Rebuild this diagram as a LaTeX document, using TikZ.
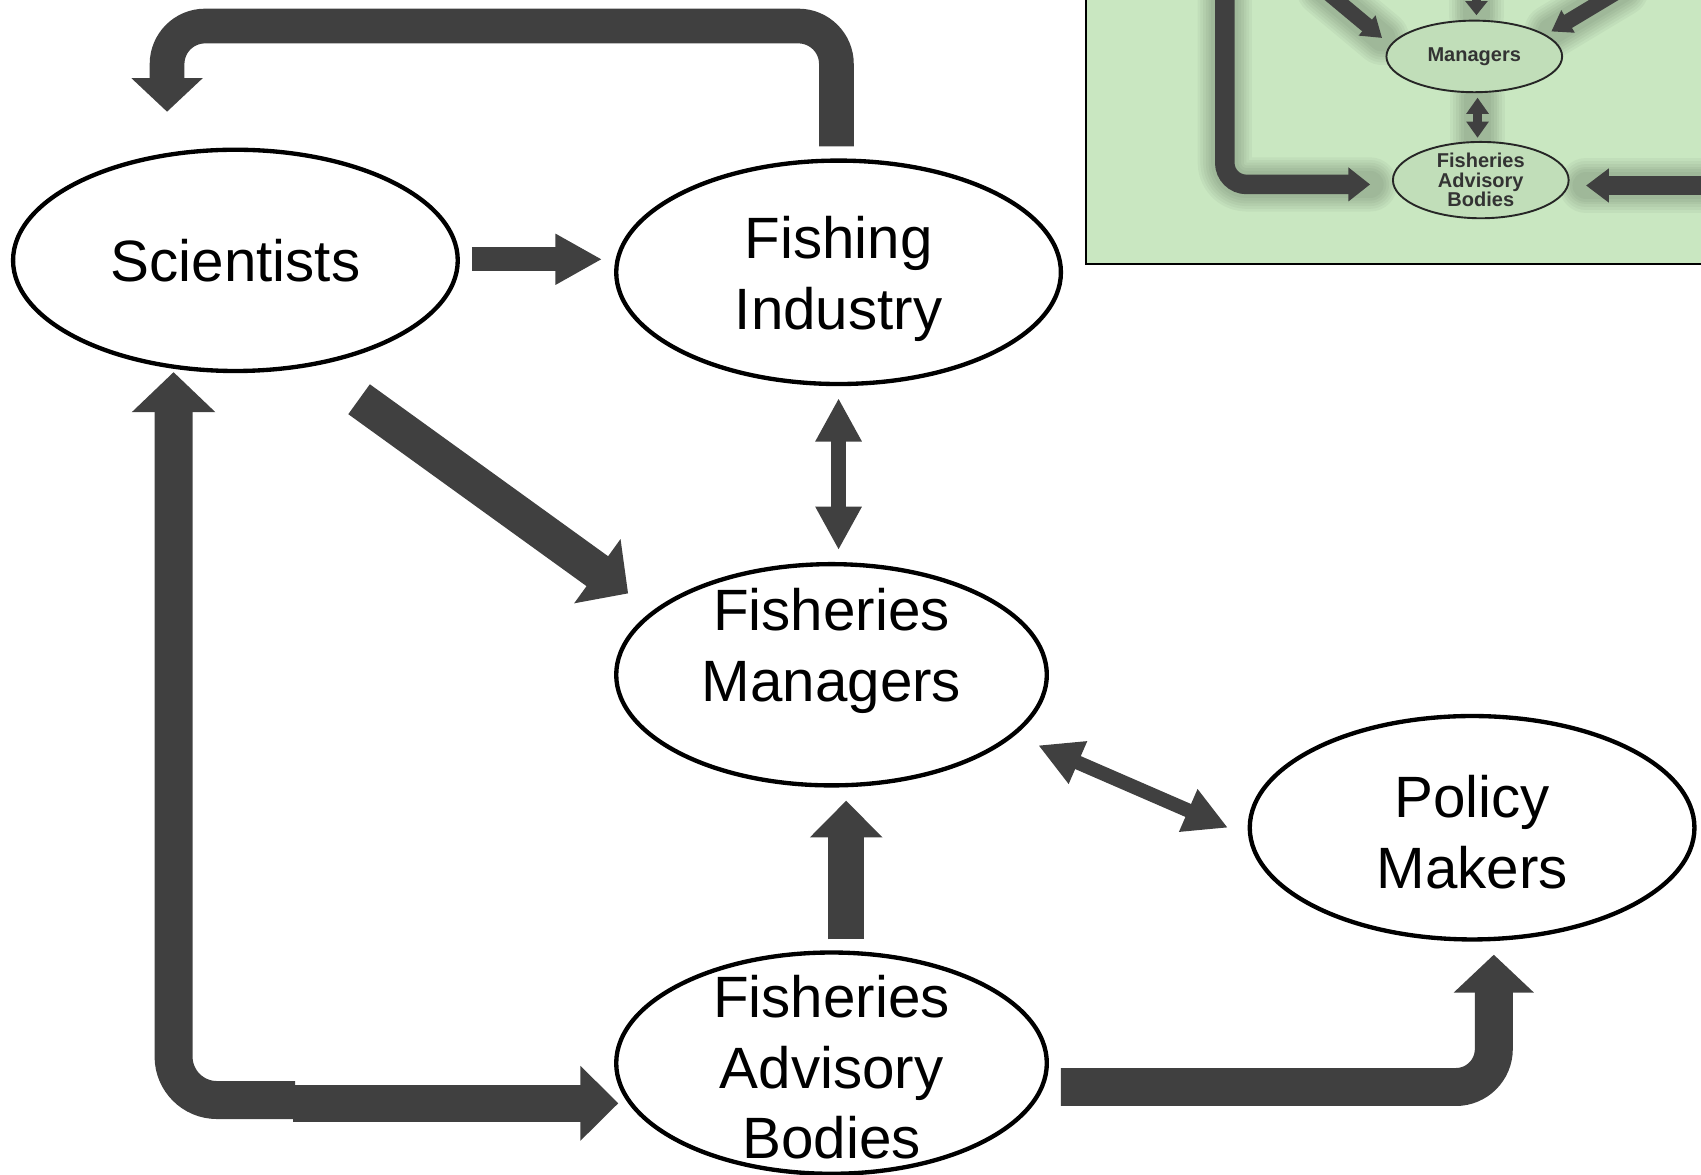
\documentclass[tikz,border=0pt]{standalone}
\usepackage{fontspec}
\setmainfont{Liberation Sans}
\usetikzlibrary{arrows.meta,shapes.geometric,calc}
\definecolor{agray}{HTML}{404040}
\definecolor{insetgreen}{HTML}{C9E7C1}
\begin{document}
\begin{tikzpicture}[x=0.02cm,y=-0.02cm,
  ent/.style={ellipse, draw=black, line width=0.08cm, fill=white, inner sep=0pt},
  enttext/.style={inner sep=0pt, align=center, font=\fontsize{30.6}{37}\selectfont},
  mini/.style={ellipse, draw=black!85, line width=0.035cm, fill=insetgreen!96!black, inner sep=0pt, align=center, text=black!80, font=\bfseries\fontsize{10.5}{10.3}\selectfont},
  fat/.style={draw=agray, line width=#1},
  halo/.style={draw=black, line width=#1, opacity=0.035, line cap=round, line join=round},
]
\useasboundingbox (0,0) rectangle (1568,1083);
\clip (0,0) rectangle (1568,1083);

% ---------- inset (top right) ----------
\fill[insetgreen] (1001,-20) rectangle (1620,243);
\draw[black, line width=0.04cm] (1001,-20) -- (1001,243) -- (1620,243);
\coordinate (iL1) at (1129,-10);
\coordinate (iL2) at (1129,170);
\coordinate (iL3) at (1263,170);
\coordinate (iR1) at (1620,171);
\coordinate (iR2) at (1462,171);
\coordinate (iD1) at (1362,90);
\coordinate (iD2) at (1362,127);
\coordinate (iT1) at (1361,-10);
\coordinate (iT2) at (1361,14);
\coordinate (iA1) at (1220,-10);
\coordinate (iA2) at (1274,35);
\coordinate (iB1) at (1495,-10);
\coordinate (iB2) at (1430,29);
% soft blur halo
\foreach \w in {1.0cm,0.9cm,0.8cm,0.7cm,0.6cm,0.5cm}{
  \draw[halo=\w, rounded corners=0.4cm] (iL1) -- (iL2) -- (iL3);
  \draw[halo=\w] (iR1) -- (iR2);
  \draw[halo=\w] (iA1) -- (iA2);
  \draw[halo=\w] (iB1) -- (iB2);
  \draw[halo=\w] (iD1) -- (iD2);
  \draw[halo=\w] (iT1) -- (iT2);
}
\node[mini, minimum width=3.24cm, minimum height=1.32cm] (im) at (1359,52) {Managers};
\node[mini, minimum width=3.24cm, minimum height=1.36cm] (ifab) at (1365,166) {Fisheries\\Advisory\\Bodies};
\draw[fat=0.36cm, rounded corners=0.4cm, -{Triangle[width=0.6cm,length=0.4cm]}] (iL1) -- (iL2) -- (iL3);
\draw[fat=0.34cm, -{Triangle[width=0.6cm,length=0.42cm]}] (iR1) -- (iR2);
\draw[fat=0.18cm, {Triangle[width=0.4cm,length=0.3cm]}-{Triangle[width=0.4cm,length=0.3cm]}] (iD1) -- (iD2);
\draw[fat=0.18cm, -{Triangle[width=0.4cm,length=0.26cm]}] (iT1) -- (iT2);
\draw[fat=0.28cm, -{Triangle[width=0.46cm,length=0.36cm]}] (iA1) -- (iA2);
\draw[fat=0.28cm, -{Triangle[width=0.46cm,length=0.36cm]}] (iB1) -- (iB2);

% ---------- main nodes ----------
\node[ent, minimum width=8.2cm, minimum height=4.08cm] (sci) at (217,240) {};
\node[enttext] (scit) at (sci.center) {Scientists};
\node[ent, minimum width=8.2cm, minimum height=4.12cm] (fi) at (773,251) {};
\node[enttext] (fit) at ([yshift=-0.12cm]fi.center) {Fishing\\Industry};
\node[ent, minimum width=7.94cm, minimum height=4.08cm] (fm) at (766.5,622) {};
\node[enttext] (fmt) at ([yshift=0.44cm]fm.center) {Fisheries\\Managers};
\node[ent, minimum width=8.2cm, minimum height=4.12cm] (pm) at (1357,763) {};
\node[enttext] (pmt) at ([yshift=-0.08cm]pm.center) {Policy\\Makers};
\node[ent, minimum width=7.94cm, minimum height=4.08cm] (fab) at (766.5,980) {};
\node[enttext] (fabt) at ([yshift=-0.08cm]fab.center) {Fisheries\\Advisory\\Bodies};

% ---------- connectors ----------
% Fishing Industry -> Scientists (top loop)
\coordinate (l1) at (771,135);
\coordinate (l2) at (771,24);
\coordinate (l3) at (154,24);
\coordinate (l4) at (154,103);
\draw[fat=0.64cm, rounded corners=0.7cm, -{Triangle[width=1.28cm,length=0.62cm]}] (l1) -- (l2) -- (l3) -- (l4);

% Scientists -> Fishing Industry
\coordinate (s1) at (435,239);
\coordinate (s2) at (555,239);
\draw[fat=0.44cm, -{Triangle[width=0.88cm,length=0.86cm]}] (s1) -- (s2);

% Fishing Industry <-> Fisheries Managers
\coordinate (v1) at (773,367);
\coordinate (v2) at (773,507);
\draw[fat=0.28cm, {Triangle[width=0.8cm,length=0.8cm]}-{Triangle[width=0.8cm,length=0.8cm]}] (v1) -- (v2);

% Scientists -> Fisheries Managers
\coordinate (d1) at (331,368);
\coordinate (d2) at (579,547);
\draw[fat=0.68cm, -{Triangle[width=1.42cm,length=0.7cm]}] (d1) -- (d2);

% Fisheries Managers <-> Policy Makers
\coordinate (p1) at (957,687);
\coordinate (p2) at (1132,763);
\draw[fat=0.26cm, {Triangle[width=0.8cm,length=0.8cm]}-{Triangle[width=0.8cm,length=0.8cm]}] (p1) -- (p2);

% Advisory Bodies -> Fisheries Managers
\coordinate (u1) at (780,866);
\coordinate (u2) at (780,738);
\draw[fat=0.66cm, -{Triangle[width=1.3cm,length=0.68cm]}] (u1) -- (u2);

% Scientists <-> Advisory Bodies
\coordinate (b1) at (272,1014);
\coordinate (b2) at (160,1014);
\coordinate (b3) at (160,343);
\draw[fat=0.7cm, rounded corners=0.8cm, -{Triangle[width=1.5cm,length=0.74cm]}] (b1) -- (b2) -- (b3);
\coordinate (b4) at (270,1017);
\coordinate (b5) at (570,1017);
\draw[fat=0.68cm, -{Triangle[width=1.34cm,length=0.7cm]}] (b4) -- (b5);

% Advisory Bodies -> Policy Makers
\coordinate (r1) at (978,1002);
\coordinate (r2) at (1377,1002);
\coordinate (r3) at (1377,880);
\draw[fat=0.7cm, rounded corners=0.7cm, -{Triangle[width=1.44cm,length=0.7cm]}] (r1) -- (r2) -- (r3);
\end{tikzpicture}
\end{document}
